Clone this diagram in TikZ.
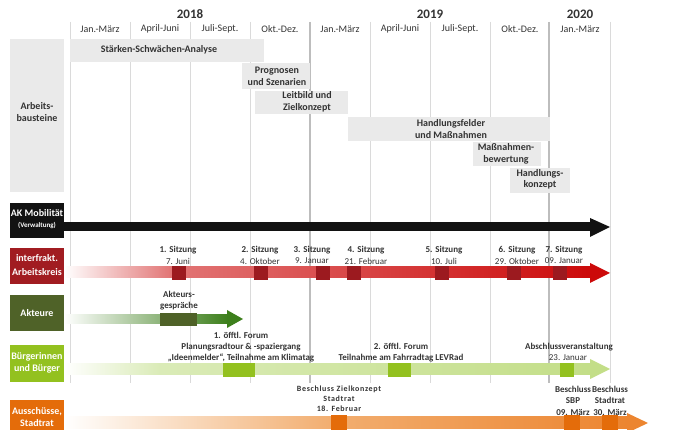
\documentclass[tikz,border=0pt]{standalone}
\usepackage{fontspec}
\setmainfont{Carlito}
\definecolor{txt}{HTML}{333333}
\definecolor{gridc}{HTML}{DADADA}
\definecolor{gridy}{HTML}{BDBDBD}
\definecolor{colBar}{HTML}{EAEAEA}
\definecolor{colRedBox}{HTML}{A11C21}
\definecolor{colRedSq}{HTML}{9C1A1F}
\definecolor{colRedMid}{HTML}{E27676}
\definecolor{colRedEnd}{HTML}{CC0A0A}
\definecolor{colAkBox}{HTML}{4F6228}
\definecolor{colAkEnd}{HTML}{3D7F1C}
\definecolor{colBBox}{HTML}{93C11F}
\definecolor{colBMid}{HTML}{DAEBB7}
\definecolor{colBEnd}{HTML}{C3DE88}
\definecolor{colOBox}{HTML}{E46C0A}
\definecolor{colOMid}{HTML}{F2AE70}
\definecolor{colOEnd}{HTML}{EC8530}
\tikzset{
  thin grid/.style={draw=gridc, line width=0.8pt},
  year grid/.style={draw=gridy, line width=1.6pt},
  bartext/.style={font=\bfseries\fontsize{10}{11.5}\selectfont, text=txt, align=center, inner sep=0},
  qlabel/.style={font=\fontsize{10}{12}\selectfont, text=txt, inner sep=0},
  ylabel/.style={font=\bfseries\fontsize{13}{14}\selectfont, text=txt, inner sep=0},
  rowlab/.style={font=\bfseries\fontsize{10}{12}\selectfont, text=white, align=center, inner sep=0},
  evbold/.style={font=\bfseries\fontsize{9}{11}\selectfont, text=txt, align=center, inner sep=0},
  evreg/.style={font=\fontsize{9}{11}\selectfont, text=txt, align=center, inner sep=0},
  sqbox/.style={minimum size=14, inner sep=0, draw=none},
  besch/.style={font=\bfseries\fontsize{8}{10}\selectfont\addfontfeatures{LetterSpace=8}, text=txt, align=center, inner sep=0},
}
\begin{document}
\begin{tikzpicture}[x=1pt,y=-1pt]
\useasboundingbox (0,0) rectangle (673,430);
% grid
\foreach \x in {70,130,190,250,370,430,490,610} \draw[thin grid] (\x,22) -- (\x,383);
\foreach \x in {310,549} \draw[year grid] (\x,22) -- (\x,383);
% years
\node[ylabel] (y18) at (190,14) {2018};
\node[ylabel] (y19) at (430,14) {2019};
\node[ylabel] (y20) at (580,14) {2020};
% quarters
\node[qlabel] (q1) at (100,29) {Jan.-März};
\node[qlabel] (q2) at (160,29) {April-Juni};
\node[qlabel] (q3) at (220,29) {Juli-Sept.};
\node[qlabel] (q4) at (280,29) {Okt.-Dez.};
\node[qlabel] (q5) at (340,29) {Jan.-März};
\node[qlabel] (q6) at (400,29) {April-Juni};
\node[qlabel] (q7) at (460,29) {Juli-Sept.};
\node[qlabel] (q8) at (520,29) {Okt.-Dez.};
\node[qlabel] (q9) at (580,29) {Jan.-März};
% row label boxes
\fill[colBar] (10,39) rectangle (64,192);
\node[rowlab, text=txt] (l1) at (37,112) {Arbeits-\\bausteine};
\fill[black!93] (10,203) rectangle (64,238);
\node[rowlab] (l2) at (37,213) {AK Mobilität};
\node[rowlab, font=\bfseries\fontsize{7}{8}\selectfont] (l2b) at (37,225.5) {(Verwaltung)};
\fill[colRedBox] (10,248) rectangle (64,284);
\node[rowlab, font=\bfseries\fontsize{10}{14}\selectfont] (l3) at (37,265) {interfrakt.\\Arbeitskreis};
\fill[colAkBox] (10,295) rectangle (64,331);
\node[rowlab] (l4) at (37,313) {Akteure};
\fill[colBBox] (10,345) rectangle (64,382);
\node[rowlab] (l5) at (37,363) {Bürgerinnen\\und Bürger};
\fill[colOBox] (10,400) rectangle (64,436);
\node[rowlab] (l6) at (37,417) {Ausschüsse,\\Stadtrat};
% Arbeitsbausteine bars
\fill[colBar] (70,39) rectangle (264,62);
\node[bartext] (b1) at (159,50) {Stärken-Schwächen-Analyse};
\fill[colBar] (242,63) rectangle (310,89);
\node[bartext] (b2) at (277,76.5) {Prognosen\\und Szenarien};
\fill[colBar] (255,91) rectangle (348,114);
\node[bartext] (b3) at (307,102) {Leitbild und\\Zielkonzept};
\fill[colBar] (348,117) rectangle (550,141);
\node[bartext] (b4) at (451,129) {Handlungsfelder\\und Maßnahmen};
\fill[colBar] (473,142) rectangle (541,166);
\node[bartext] (b5) at (506,154) {Maßnahmen-\\bewertung};
\fill[colBar] (510,168) rectangle (570,193);
\node[bartext] (b6) at (540,179.5) {Handlungs-\\konzept};
% AK Mobilitaet arrow
\fill[black!93] (64,222) rectangle (591,231);
\fill[black!93] (590,218) -- (610,227) -- (590,237) -- cycle;
% interfrakt arrow
\shade[left color=white, right color=colRedMid] (64,267) rectangle (170,278);
\shade[left color=colRedMid, right color=colRedEnd] (170,267) rectangle (591,278);
\fill[colRedEnd] (590,263) -- (610,273) -- (590,283) -- cycle;
\foreach \n/\x in {s1/179,s2/261,s3/323,s4/354,s5/442,s6/514,s7/560}
  \node[sqbox, fill=colRedSq] (\n) at (\x,273) {};
\node[evbold] (t1) at (178,250) {1. Sitzung};  \node[evreg] (d1) at (178,261) {7. Juni};
\node[evbold] (t2) at (260,250) {2. Sitzung};  \node[evreg] (d2) at (260,261) {4. Oktober};
\node[evbold] (t3) at (312,250) {3. Sitzung};  \node[evreg] (d3) at (312,261) {9. Januar};
\node[evbold] (t4) at (366,250) {4. Sitzung};  \node[evreg] (d4) at (366,261) {21. Februar};
\node[evbold] (t5) at (444,250) {5. Sitzung};  \node[evreg] (d5) at (444,261) {10. Juli};
\node[evbold] (t6) at (517,250) {6. Sitzung};  \node[evreg] (d6) at (517,261) {29. Oktober};
\node[evbold] (t7) at (564,250) {7. Sitzung};  \node[evreg] (d7) at (564,261) {09. Januar};
% Akteure arrow
\shade[left color=white, right color=colAkEnd] (64,315) rectangle (228,324);
\fill[colAkEnd] (227,310) -- (243,319) -- (227,328) -- cycle;
\fill[colAkBox] (160,313) rectangle (197,326);
\node[evbold] (ak) at (179,300.5) {Akteurs-\\gespräche};
% Buerger arrow
\shade[left color=white, right color=colBMid] (64,364) rectangle (160,375);
\shade[left color=colBMid, right color=colBEnd] (160,364) rectangle (591,375);
\fill[colBEnd] (590,359) -- (610,369) -- (590,379) -- cycle;
\fill[colBBox] (223,363) rectangle (255,377);
\fill[colBBox] (388,363) rectangle (411,377);
\fill[colBBox] (560,363) rectangle (574,377);
\node[evbold] (f1) at (241,347) {1. öfftl. Forum\\Planungsradtour \& -spaziergang\\„Ideenmelder“, Teilnahme am Klimatag};
\node[evbold] (f2) at (401,352.5) {2. öfftl. Forum\\Teilnahme am Fahrradtag LEVRad};
\node[evbold] (f3) at (569,347) {Abschlussveranstaltung};
\node[evreg] (f3d) at (568,358) {23. Januar};
% Ausschuesse arrow
\shade[left color=white, right color=colOMid] (64,417) rectangle (330,429);
\shade[left color=colOMid, right color=colOEnd] (330,417) rectangle (628,429);
\fill[colOEnd] (627,413) -- (648,423) -- (627,433) -- cycle;
\fill[colOBox] (331,415) rectangle (347,431);
\fill[colOBox] (564,415) rectangle (580,431);
\fill[colOBox] (602,415) rectangle (618,431);
\node[besch] (c1) at (339,399) {Beschluss Zielkonzept\\Stadtrat\\18. Februar};
\node[evbold, font=\bfseries\fontsize{9}{11.5}\selectfont] (c2) at (573,400.5) {Beschluss\\SBP\\09. März};
\node[evbold, font=\bfseries\fontsize{9}{11.5}\selectfont] (c3) at (610,400.5) {Beschluss\\Stadtrat\\30. März};
\end{tikzpicture}
\end{document}
